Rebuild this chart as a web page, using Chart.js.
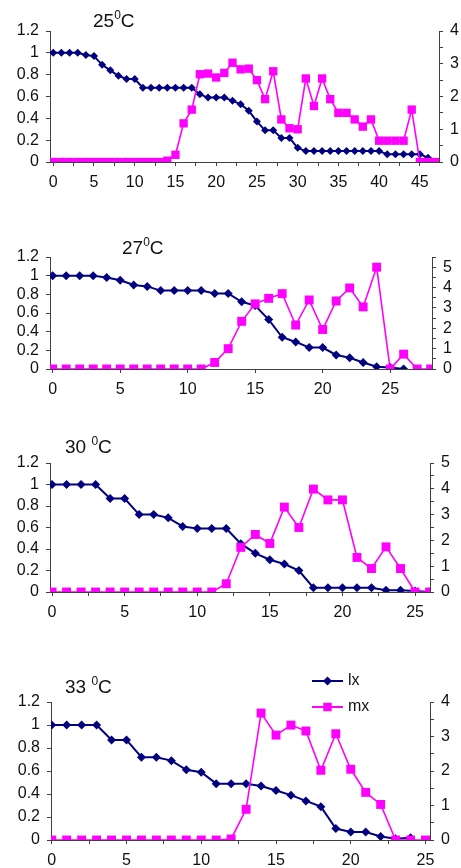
<!DOCTYPE html>
<html>
<head>
<meta charset="utf-8">
<script src="https://cdn.jsdelivr.net/npm/chart.js@4.4.0/dist/chart.umd.min.js"></script>
<style>
  html, body { margin: 0; padding: 0; background: #fff; width: 461px; height: 868px; overflow: hidden; }
  .panel { position: absolute; left: 0; width: 461px; }
</style>
</head>
<body>
<div class="panel" style="top:0;height:195px"><canvas id="c25"></canvas></div>
<div class="panel" style="top:215px;height:185px"><canvas id="c27"></canvas></div>
<div class="panel" style="top:420px;height:200px"><canvas id="c30"></canvas></div>
<div class="panel" style="top:650px;height:218px"><canvas id="c33"></canvas></div>
<script>
// lx / mx per age (day = array index)
const lx25 = [1, 1, 1, 1, 0.98, 0.97, 0.89, 0.84, 0.79, 0.76, 0.76, 0.68, 0.68, 0.68, 0.68, 0.68, 0.68, 0.68,
  0.62, 0.59, 0.59, 0.59, 0.56, 0.53, 0.47, 0.37, 0.29, 0.29, 0.22, 0.22, 0.13, 0.10, 0.10, 0.10, 0.10, 0.10,
  0.10, 0.10, 0.10, 0.10, 0.10, 0.07, 0.07, 0.07, 0.07, 0.07, 0.04];
const mx25 = [0, 0, 0, 0, 0, 0, 0, 0, 0, 0, 0, 0, 0, 0, 0.04, 0.22, 1.18, 1.6, 2.68, 2.7, 2.58, 2.72, 3.03,
  2.83, 2.85, 2.5, 1.92, 2.77, 1.3, 1.03, 1.0, 2.55, 1.71, 2.55, 1.92, 1.5, 1.5, 1.3, 1.08, 1.3, 0.65, 0.65,
  0.65, 0.65, 1.6, 0, 0, 0];

const lx27 = [1, 1, 1, 1, 0.98, 0.95, 0.90, 0.885, 0.84, 0.84, 0.84, 0.84, 0.81, 0.81, 0.72, 0.68, 0.53, 0.34,
  0.29, 0.23, 0.23, 0.15, 0.12, 0.07, 0.025, 0.015, 0];
const mx27 = [0, 0, 0, 0, 0, 0, 0, 0, 0, 0, 0, 0, 0.32, 1.0, 2.34, 3.2, 3.47, 3.7, 2.16, 3.39, 1.94, 3.34, 3.98,
  3.05, 5.0, 0, 0.73, 0, 0];

const lx30 = [1, 1, 1, 1, 0.87, 0.87, 0.72, 0.72, 0.69, 0.61, 0.59, 0.59, 0.59, 0.45, 0.36, 0.30, 0.26, 0.20,
  0.04, 0.04, 0.04, 0.04, 0.04, 0.016, 0.016, 0.01, 0];
const mx30 = [0, 0, 0, 0, 0, 0, 0, 0, 0, 0, 0, 0, 0.32, 1.73, 2.23, 1.88, 3.29, 2.5, 3.99, 3.57, 3.57, 1.34,
  0.91, 1.75, 0.91, 0, 0];

const lx33 = [1, 1, 1, 1, 0.87, 0.87, 0.72, 0.72, 0.69, 0.61, 0.59, 0.49, 0.49, 0.49, 0.47, 0.43, 0.39, 0.34,
  0.29, 0.10, 0.07, 0.07, 0.03, 0.01, 0.02];
const mx33 = [0, 0, 0, 0, 0, 0, 0, 0, 0, 0, 0, 0, 0.03, 0.89, 3.68, 3.04, 3.33, 3.16, 2.02, 3.08, 2.05, 1.38,
  1.03, 0, 0, 0];

// tick labels
const leftTicks = [0, 0.2, 0.4, 0.6, 0.8, 1, 1.2];
const xLabels25 = [0, 5, 10, 15, 20, 25, 30, 35, 40, 45];
const xLabels = [0, 5, 10, 15, 20, 25];
const right4 = [0, 1, 2, 3, 4];
const right5 = [0, 1, 2, 3, 4, 5];
const seriesNames = ['lx', 'mx'];

const FONT = '"Liberation Sans", Arial, sans-serif';
const TXT = '#111';
const AXIS = '#404040';
const NAVY = '#000080';
const PINK = '#FF00FF';

function drawTitle(ctx, x, y, main, tail) {
    ctx.save();
    ctx.fillStyle = TXT;
    ctx.textBaseline = 'middle';
    ctx.font = '19px ' + FONT;
    ctx.fillText(main, x, y);
    let w = ctx.measureText(main).width;
    ctx.font = '12px ' + FONT;
    ctx.fillText('0', x + w, y - 6);
    w += ctx.measureText('0').width;
    ctx.font = '19px ' + FONT;
    ctx.fillText(tail, x + w, y);
    ctx.restore();
}

function drawLegend(ctx, x, y) {
    const styles = [
        { color: NAVY, shape: 'rectRot', r: 4.5 },
        { color: PINK, shape: 'rect', r: 6 }
    ];
    ctx.save();
    seriesNames.forEach((name, i) => {
        const yy = y + i * 26;
        const s = styles[i];
        ctx.strokeStyle = s.color;
        ctx.lineWidth = 2;
        ctx.beginPath();
        ctx.moveTo(x, yy);
        ctx.lineTo(x + 31, yy);
        ctx.stroke();
        ctx.fillStyle = s.color;
        Chart.helpers.drawPoint(ctx, { pointStyle: s.shape, radius: s.r, borderWidth: 0 }, x + 15.5, yy);
        ctx.fillStyle = TXT;
        ctx.font = '16px ' + FONT;
        ctx.textBaseline = 'middle';
        ctx.fillText(name, x + 36, yy);
    });
    ctx.restore();
}

function withHalves(list) {
    const out = [];
    list.forEach(v => { out.push(v); out.push(v + list[1] / 2); });
    return out;
}

function makePanel(p) {
    const tickFont = { family: FONT, size: 16 };
    const axisGrid = { drawOnChartArea: false, tickLength: 4, tickColor: AXIS, lineWidth: 1 };
    const axisBorder = { display: true, color: AXIS, width: 1 };

    new Chart(document.getElementById(p.id), {
        type: 'line',
        data: {
            datasets: [{
                label: 'lx',
                data: p.lx.map((v, i) => ({ x: i, y: v })),
                yAxisID: 'y',
                borderColor: NAVY,
                backgroundColor: NAVY,
                borderWidth: 2,
                pointStyle: 'rectRot',
                pointRadius: p.dia,
                pointBorderWidth: 0,
                order: 1
            }, {
                label: 'mx',
                data: p.mx.map((v, i) => ({ x: i, y: v })),
                yAxisID: 'y1',
                borderColor: PINK,
                backgroundColor: PINK,
                borderWidth: 1.6,
                pointStyle: 'rect',
                pointRadius: p.sq,
                pointBorderWidth: 0,
                order: 0
            }]
        },
        options: {
            responsive: true,
            maintainAspectRatio: false,
            animation: false,
            layout: { padding: { top: p.padTop, left: 0, right: 0, bottom: 0 } },
            plugins: { legend: { display: false }, tooltip: { enabled: false } },
            scales: {
                x: {
                    type: 'linear',
                    min: p.xMin,
                    max: p.xMax,
                    afterBuildTicks: s => {
                        s.ticks = p.xMarks.filter(v => v <= p.xMax).map(v => ({ value: v }));
                    },
                    afterFit: s => { s.height = p.xH; },
                    ticks: {
                        autoSkip: false, maxRotation: 0, padding: 7, font: tickFont, color: TXT,
                        callback: v => p.xLabels.includes(v) ? String(v) : ''
                    },
                    grid: axisGrid,
                    border: axisBorder
                },
                y: {
                    position: 'left',
                    min: 0,
                    max: 1.2,
                    afterBuildTicks: s => { s.ticks = leftTicks.map(v => ({ value: v })); },
                    afterFit: s => { s.width = p.leftW; },
                    ticks: { autoSkip: false, padding: 7, font: tickFont, color: TXT, callback: v => String(v) },
                    grid: axisGrid,
                    border: axisBorder
                },
                y1: {
                    position: 'right',
                    min: 0,
                    max: p.rightMax,
                    afterBuildTicks: s => {
                        s.ticks = withHalves(p.right).filter(v => v <= p.rightMax).map(v => ({ value: v }));
                    },
                    afterFit: s => { s.width = p.rightW; },
                    ticks: {
                        autoSkip: false, padding: 7, font: tickFont, color: TXT,
                        callback: v => p.right.includes(v) ? String(v) : ''
                    },
                    grid: axisGrid,
                    border: axisBorder
                }
            }
        },
        plugins: [{
            id: 'panelText',
            afterDraw: chart => {
                drawTitle(chart.ctx, p.titleX, p.titleY, p.main, 'C');
                if (p.legend) drawLegend(chart.ctx, 312, 31);
            }
        }]
    });
}

makePanel({
    id: 'c25', lx: lx25, mx: mx25, main: '25', titleX: 93, titleY: 22,
    padTop: 31, leftW: 50, rightW: 22, xH: 33, xMin: -0.4, xMax: 47.35,
    xLabels: xLabels25, xMarks: withHalves(xLabels25), right: right4, rightMax: 4,
    dia: 4, sq: 5.9
});
makePanel({
    id: 'c27', lx: lx27, mx: mx27, main: '27', titleX: 122, titleY: 34,
    padTop: 42, leftW: 50, rightW: 29, xH: 31, xMin: -0.2, xMax: 28.1,
    xLabels: xLabels, xMarks: xLabels, right: right5, rightMax: 5.5,
    dia: 4.5, sq: 6.3
});
makePanel({
    id: 'c30', lx: lx30, mx: mx30, main: '30 ', titleX: 65, titleY: 28,
    padTop: 43, leftW: 50, rightW: 31, xH: 28, xMin: -0.14, xMax: 26.03,
    xLabels: xLabels, xMarks: withHalves(xLabels), right: right5, rightMax: 5,
    dia: 4.5, sq: 6.3
});
makePanel({
    id: 'c33', lx: lx33, mx: mx33, main: '33 ', titleX: 65, titleY: 38,
    padTop: 52, leftW: 51, rightW: 31, xH: 28, xMin: -0.05, xMax: 25.3,
    xLabels: xLabels, xMarks: withHalves(xLabels), right: right4, rightMax: 4,
    dia: 4.5, sq: 6.3, legend: true
});
</script>
</body>
</html>
